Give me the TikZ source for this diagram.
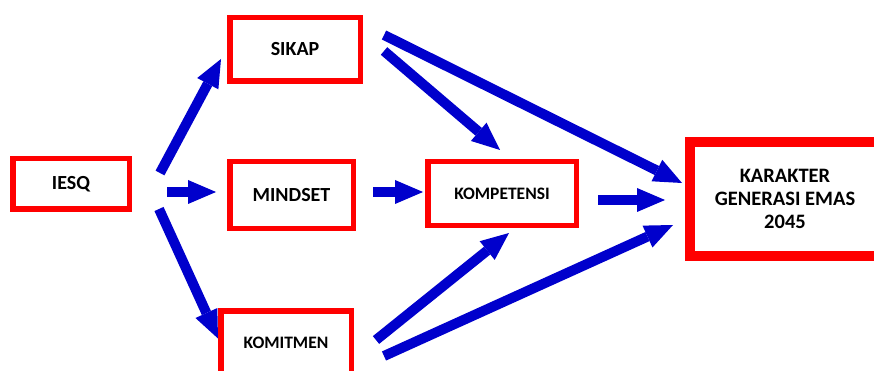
\documentclass[tikz,border=0pt]{standalone}
\usepackage{fontspec}
\setmainfont{Carlito}
\usetikzlibrary{arrows.meta}
\definecolor{boxred}{RGB}{255,0,0}
\definecolor{flowblue}{RGB}{0,0,204}
\tikzset{
  box/.style={draw=boxred,line width=5.5pt,rectangle,inner sep=0pt,align=center,font=\bfseries\fontsize{20}{23}\selectfont},
  smallbox/.style={box,font=\bfseries\fontsize{17.5}{20}\selectfont},
  bigbox/.style={box,line width=10pt,font=\bfseries\fontsize{20.5}{23}\selectfont},
  flow/.style={draw=flowblue,line width=10pt,-{Triangle[length=28pt,width=24pt,line width=0pt]}}
}
\begin{document}
\begin{tikzpicture}[x=1pt,y=1pt,yscale=-1,xscale=1]
\useasboundingbox (0,0) rectangle (874,371);
\clip (0,0) rectangle (874,371);

\node [box,minimum width=116.5pt,minimum height=50.5pt] (iesq) at (71,184) {IESQ};
\node [box,minimum width=130.5pt,minimum height=63.5pt] (sikap) at (295,49.5) {SIKAP};
\node [box,minimum width=123.5pt,minimum height=66.5pt] (mindset) at (291.5,195) {MINDSET};
\node [smallbox,minimum width=130.5pt,minimum height=63.5pt] (komitmen) at (286,342.5) {KOMITMEN};
\node [smallbox,minimum width=148.5pt,minimum height=63.5pt] (kompetensi) at (502,193.5) {KOMPETENSI};
\node [bigbox,minimum width=190pt,minimum height=114pt] (karakter) at (785,199) {KARAKTER\\GENERASI EMAS\\2045};

% arrows
\draw [flow] ([shift={(28,17)}]iesq.north east) -- ([shift={(-6,-25)}]sikap.south west);
\draw [flow] ([shift={(35,8)}]iesq.east) -- ([shift={(-11,-3)}]mindset.west);
\draw [flow] ([shift={(27,-3)}]iesq.south east) -- ([shift={(0,-4)}]komitmen.west);
\draw [flow] ([shift={(17,-3)}]mindset.east) -- ([shift={(-2,-1.5)}]kompetensi.west);
\draw [flow] ([shift={(21,1.5)}]sikap.east) -- ([shift={(-2,-9)}]kompetensi.north);
\draw [flow] ([shift={(21,20)}]sikap.north east) -- ([shift={(-3,-16)}]karakter.west);
\draw [flow] ([shift={(19,6.5)}]kompetensi.east) -- ([shift={(-20,1)}]karakter.west);
\draw [flow] ([shift={(22,-2.5)}]komitmen.east) -- ([shift={(7,5)}]kompetensi.south);
\draw [flow] ([shift={(30,13.5)}]komitmen.east) -- ([shift={(-12,26)}]karakter.west);

\end{tikzpicture}
\end{document}
